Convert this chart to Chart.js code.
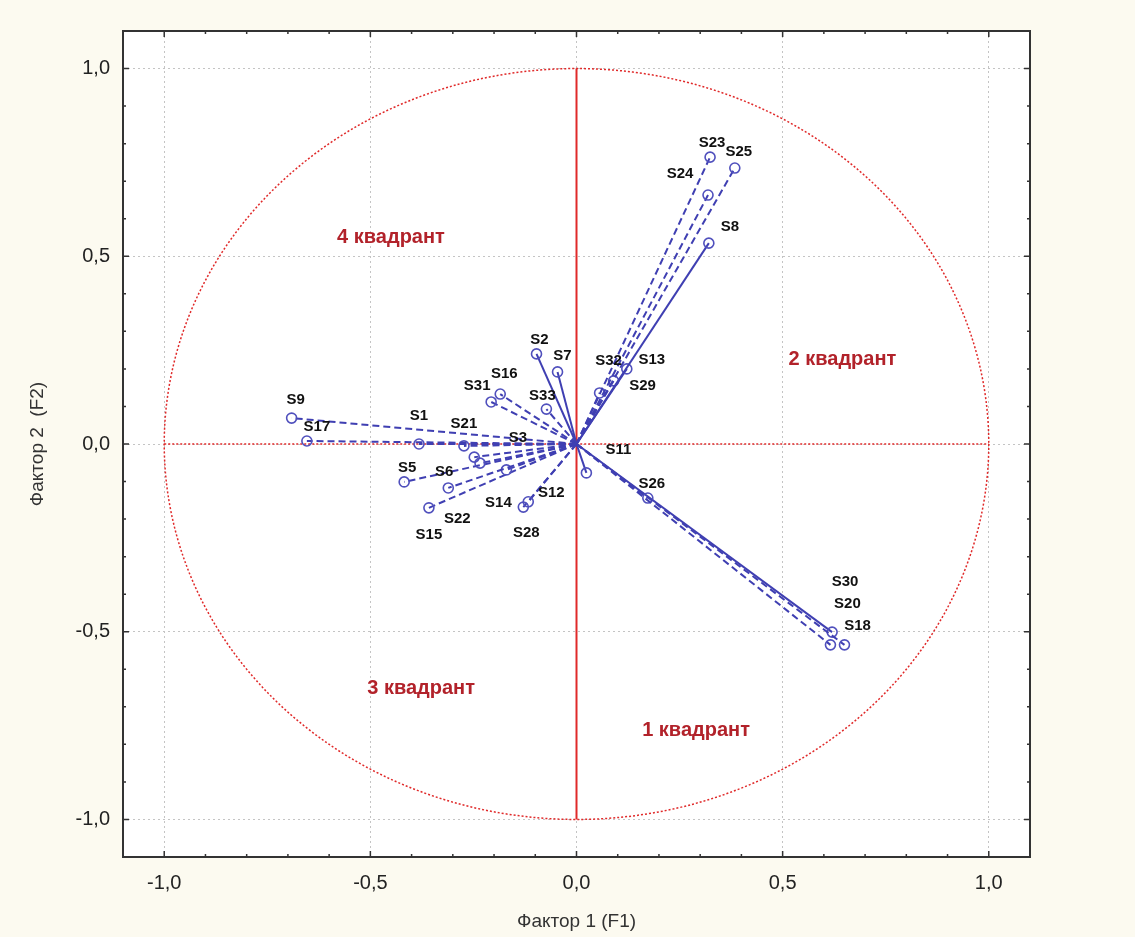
<!DOCTYPE html>
<html>
<head>
<meta charset="utf-8">
<script src="https://cdn.jsdelivr.net/npm/chart.js@4"></script>
<style>
    body { margin: 0; background: #fcfaf0; }
    canvas { display: block; }
</style>
</head>
<body>
<canvas id="myChart" width="1135" height="937"></canvas>
<script>
// factor loadings
const names = ['S1', 'S2', 'S3', 'S5', 'S6', 'S7', 'S8', 'S9', 'S11', 'S12', 'S13', 'S14', 'S15', 'S16', 'S17',
    'S18', 'S20', 'S21', 'S22', 'S23', 'S24', 'S25', 'S26', 'S28', 'S29', 'S30', 'S31', 'S32', 'S33'];
const factor1 = [-0.382, -0.097, -0.234, -0.418, -0.311, -0.046, 0.321, -0.691, 0.024, -0.117, 0.122, -0.170, -0.358, -0.185, -0.654,
    0.650, 0.616, -0.273, -0.248, 0.324, 0.319, 0.384, 0.173, -0.129, 0.090, 0.620, -0.207, 0.056, -0.073];
const factor2 = [0.000, 0.240, -0.051, -0.101, -0.117, 0.192, 0.535, 0.069, -0.077, -0.154, 0.200, -0.069, -0.170, 0.133, 0.008,
    -0.535, -0.535, -0.005, -0.035, 0.764, 0.663, 0.735, -0.144, -0.168, 0.168, -0.501, 0.112, 0.136, 0.093];
const solidLine = ['S2', 'S7', 'S8', 'S11', 'S13', 'S30'];

const quadNames = ['4 квадрант', '2 квадрант', '3 квадрант', '1 квадрант'];
const quadX = [-0.45, 0.645, -0.377, 0.29];
const quadY = [0.551, 0.224, -0.650, -0.762];

// label offsets in pixels (same order as names)
const labelOffsets = [[0, -28], [3, -14], [38, -25], [3, -14], [-4, -16], [5, -16], [21, -16], [4, -18], [32, -23], [23, -9],
    [25, -9], [-8, 33], [0, 27], [4, -20], [10, -14], [13, -19], [17, -41], [0, -22], [-17, 62], [2, -14], [-28, -21],
    [4, -16], [4, -14], [3, 26], [29, 5], [13, -50], [-14, -16], [9, -32], [-4, -13]];

const blue = '#3f3fb2';
const red = '#e02a2a';

function isMajor(v) {
    return Math.abs(v * 2 - Math.round(v * 2)) < 1e-6;
}
function fmt(v) {
    let r = Math.round(v * 2) / 2;
    if (r === 0) r = 0;
    return r.toFixed(1).replace('.', ',');
}

const datasets = names.map((n, i) => ({
    label: n,
    data: [{ x: 0, y: 0 }, { x: factor1[i], y: factor2[i] }],
    showLine: true,
    borderColor: blue,
    borderWidth: 2,
    borderDash: solidLine.includes(n) ? [] : [7, 4],
    pointRadius: ctx => ctx.dataIndex === 1 ? 5 : 0,
    pointBorderColor: '#5050bd',
    pointBorderWidth: 1.6,
    pointBackgroundColor: 'rgba(0,0,0,0)'
}));

const decor = {
    id: 'decor',
    beforeDraw(chart) {
        const { ctx, chartArea: a } = chart;
        ctx.save();
        ctx.fillStyle = '#ffffff';
        ctx.fillRect(a.left, a.top, a.right - a.left, a.bottom - a.top);
        ctx.restore();
    },
    beforeDatasetsDraw(chart) {
        const { ctx, scales: { x, y } } = chart;
        const cx = x.getPixelForValue(0), cy = y.getPixelForValue(0);
        const rx = x.getPixelForValue(1) - cx, ry = cy - y.getPixelForValue(1);
        ctx.save();
        ctx.strokeStyle = red;
        // unit circle
        ctx.lineWidth = 1.5;
        ctx.setLineDash([2, 2]);
        ctx.beginPath();
        ctx.ellipse(cx, cy, rx, ry, 0, 0, Math.PI * 2);
        ctx.stroke();
        // horizontal axis, dotted
        ctx.beginPath();
        ctx.moveTo(x.getPixelForValue(-1), cy);
        ctx.lineTo(x.getPixelForValue(1), cy);
        ctx.stroke();
        // vertical axis, solid
        ctx.setLineDash([]);
        ctx.lineWidth = 2;
        ctx.beginPath();
        ctx.moveTo(cx, y.getPixelForValue(1));
        ctx.lineTo(cx, y.getPixelForValue(-1));
        ctx.stroke();
        ctx.restore();
    },
    afterDraw(chart) {
        const { ctx, chartArea: a, scales: { x, y } } = chart;
        ctx.save();
        // variable labels
        ctx.font = 'bold 15px Arial, "Liberation Sans", sans-serif';
        ctx.fillStyle = '#111';
        ctx.textAlign = 'center';
        ctx.textBaseline = 'middle';
        names.forEach((n, i) => {
            const px = x.getPixelForValue(factor1[i]) + labelOffsets[i][0];
            const py = y.getPixelForValue(factor2[i]) + labelOffsets[i][1];
            ctx.fillText(n, px, py);
        });
        // quadrant names
        ctx.font = 'bold 20px Arial, "Liberation Sans", sans-serif';
        ctx.fillStyle = '#b2222a';
        quadNames.forEach((q, i) => {
            ctx.fillText(q, x.getPixelForValue(quadX[i]), y.getPixelForValue(quadY[i]));
        });
        // inside ticks
        ctx.strokeStyle = '#333';
        ctx.lineWidth = 1.5;
        x.ticks.forEach(t => {
            if (Math.abs(t.value) > 1.05) return;
            const px = x.getPixelForValue(t.value);
            const len = isMajor(t.value) ? 6 : 3;
            ctx.beginPath();
            ctx.moveTo(px, a.top); ctx.lineTo(px, a.top + len);
            ctx.moveTo(px, a.bottom); ctx.lineTo(px, a.bottom - len);
            ctx.stroke();
        });
        y.ticks.forEach(t => {
            if (Math.abs(t.value) > 1.05) return;
            const py = y.getPixelForValue(t.value);
            const len = isMajor(t.value) ? 6 : 3;
            ctx.beginPath();
            ctx.moveTo(a.left, py); ctx.lineTo(a.left + len, py);
            ctx.moveTo(a.right, py); ctx.lineTo(a.right - len, py);
            ctx.stroke();
        });
        // frame
        ctx.lineWidth = 2;
        ctx.strokeRect(a.left, a.top, a.right - a.left, a.bottom - a.top);
        ctx.restore();
    }
};

const gridColor = ctx => (ctx.tick && isMajor(ctx.tick.value) && Math.abs(ctx.tick.value) < 1.05) ? '#c4c4c4' : 'rgba(0,0,0,0)';
const tickFont = { family: 'Arial, "Liberation Sans", sans-serif', size: 20 };

new Chart(document.getElementById('myChart').getContext('2d'), {
    type: 'scatter',
    data: { datasets },
    plugins: [decor],
    options: {
        responsive: false,
        animation: false,
        layout: { padding: { left: 0, top: 31, right: 105, bottom: 0 } },
        plugins: { legend: { display: false }, tooltip: { enabled: false } },
        scales: {
            x: {
                min: -1.1, max: 1.1,
                afterFit: s => { s.height = 80; },
                border: { display: false, dash: [2, 3] },
                grid: { color: gridColor, drawTicks: false, lineWidth: 1 },
                ticks: {
                    stepSize: 0.1, autoSkip: false, maxRotation: 0, padding: 14,
                    color: '#222', font: tickFont,
                    callback: v => isMajor(v) && Math.abs(v) < 1.05 ? fmt(v) : ''
                },
                title: {
                    display: true, text: 'Фактор 1 (F1)', color: '#333',
                    font: { family: 'Arial, "Liberation Sans", sans-serif', size: 19 },
                    padding: { top: 0, bottom: 4 }
                }
            },
            y: {
                min: -1.1, max: 1.1,
                afterFit: s => { s.width = 123; },
                border: { display: false, dash: [2, 3] },
                grid: { color: gridColor, drawTicks: false, lineWidth: 1 },
                ticks: {
                    stepSize: 0.1, autoSkip: false, padding: 13,
                    color: '#222', font: tickFont,
                    callback: v => isMajor(v) && Math.abs(v) < 1.05 ? fmt(v) : ''
                },
                title: {
                    display: true, text: 'Фактор 2  (F2)', color: '#333',
                    font: { family: 'Arial, "Liberation Sans", sans-serif', size: 19 },
                    padding: { top: 26, bottom: 0 }
                }
            }
        }
    }
});
</script>
</body>
</html>
